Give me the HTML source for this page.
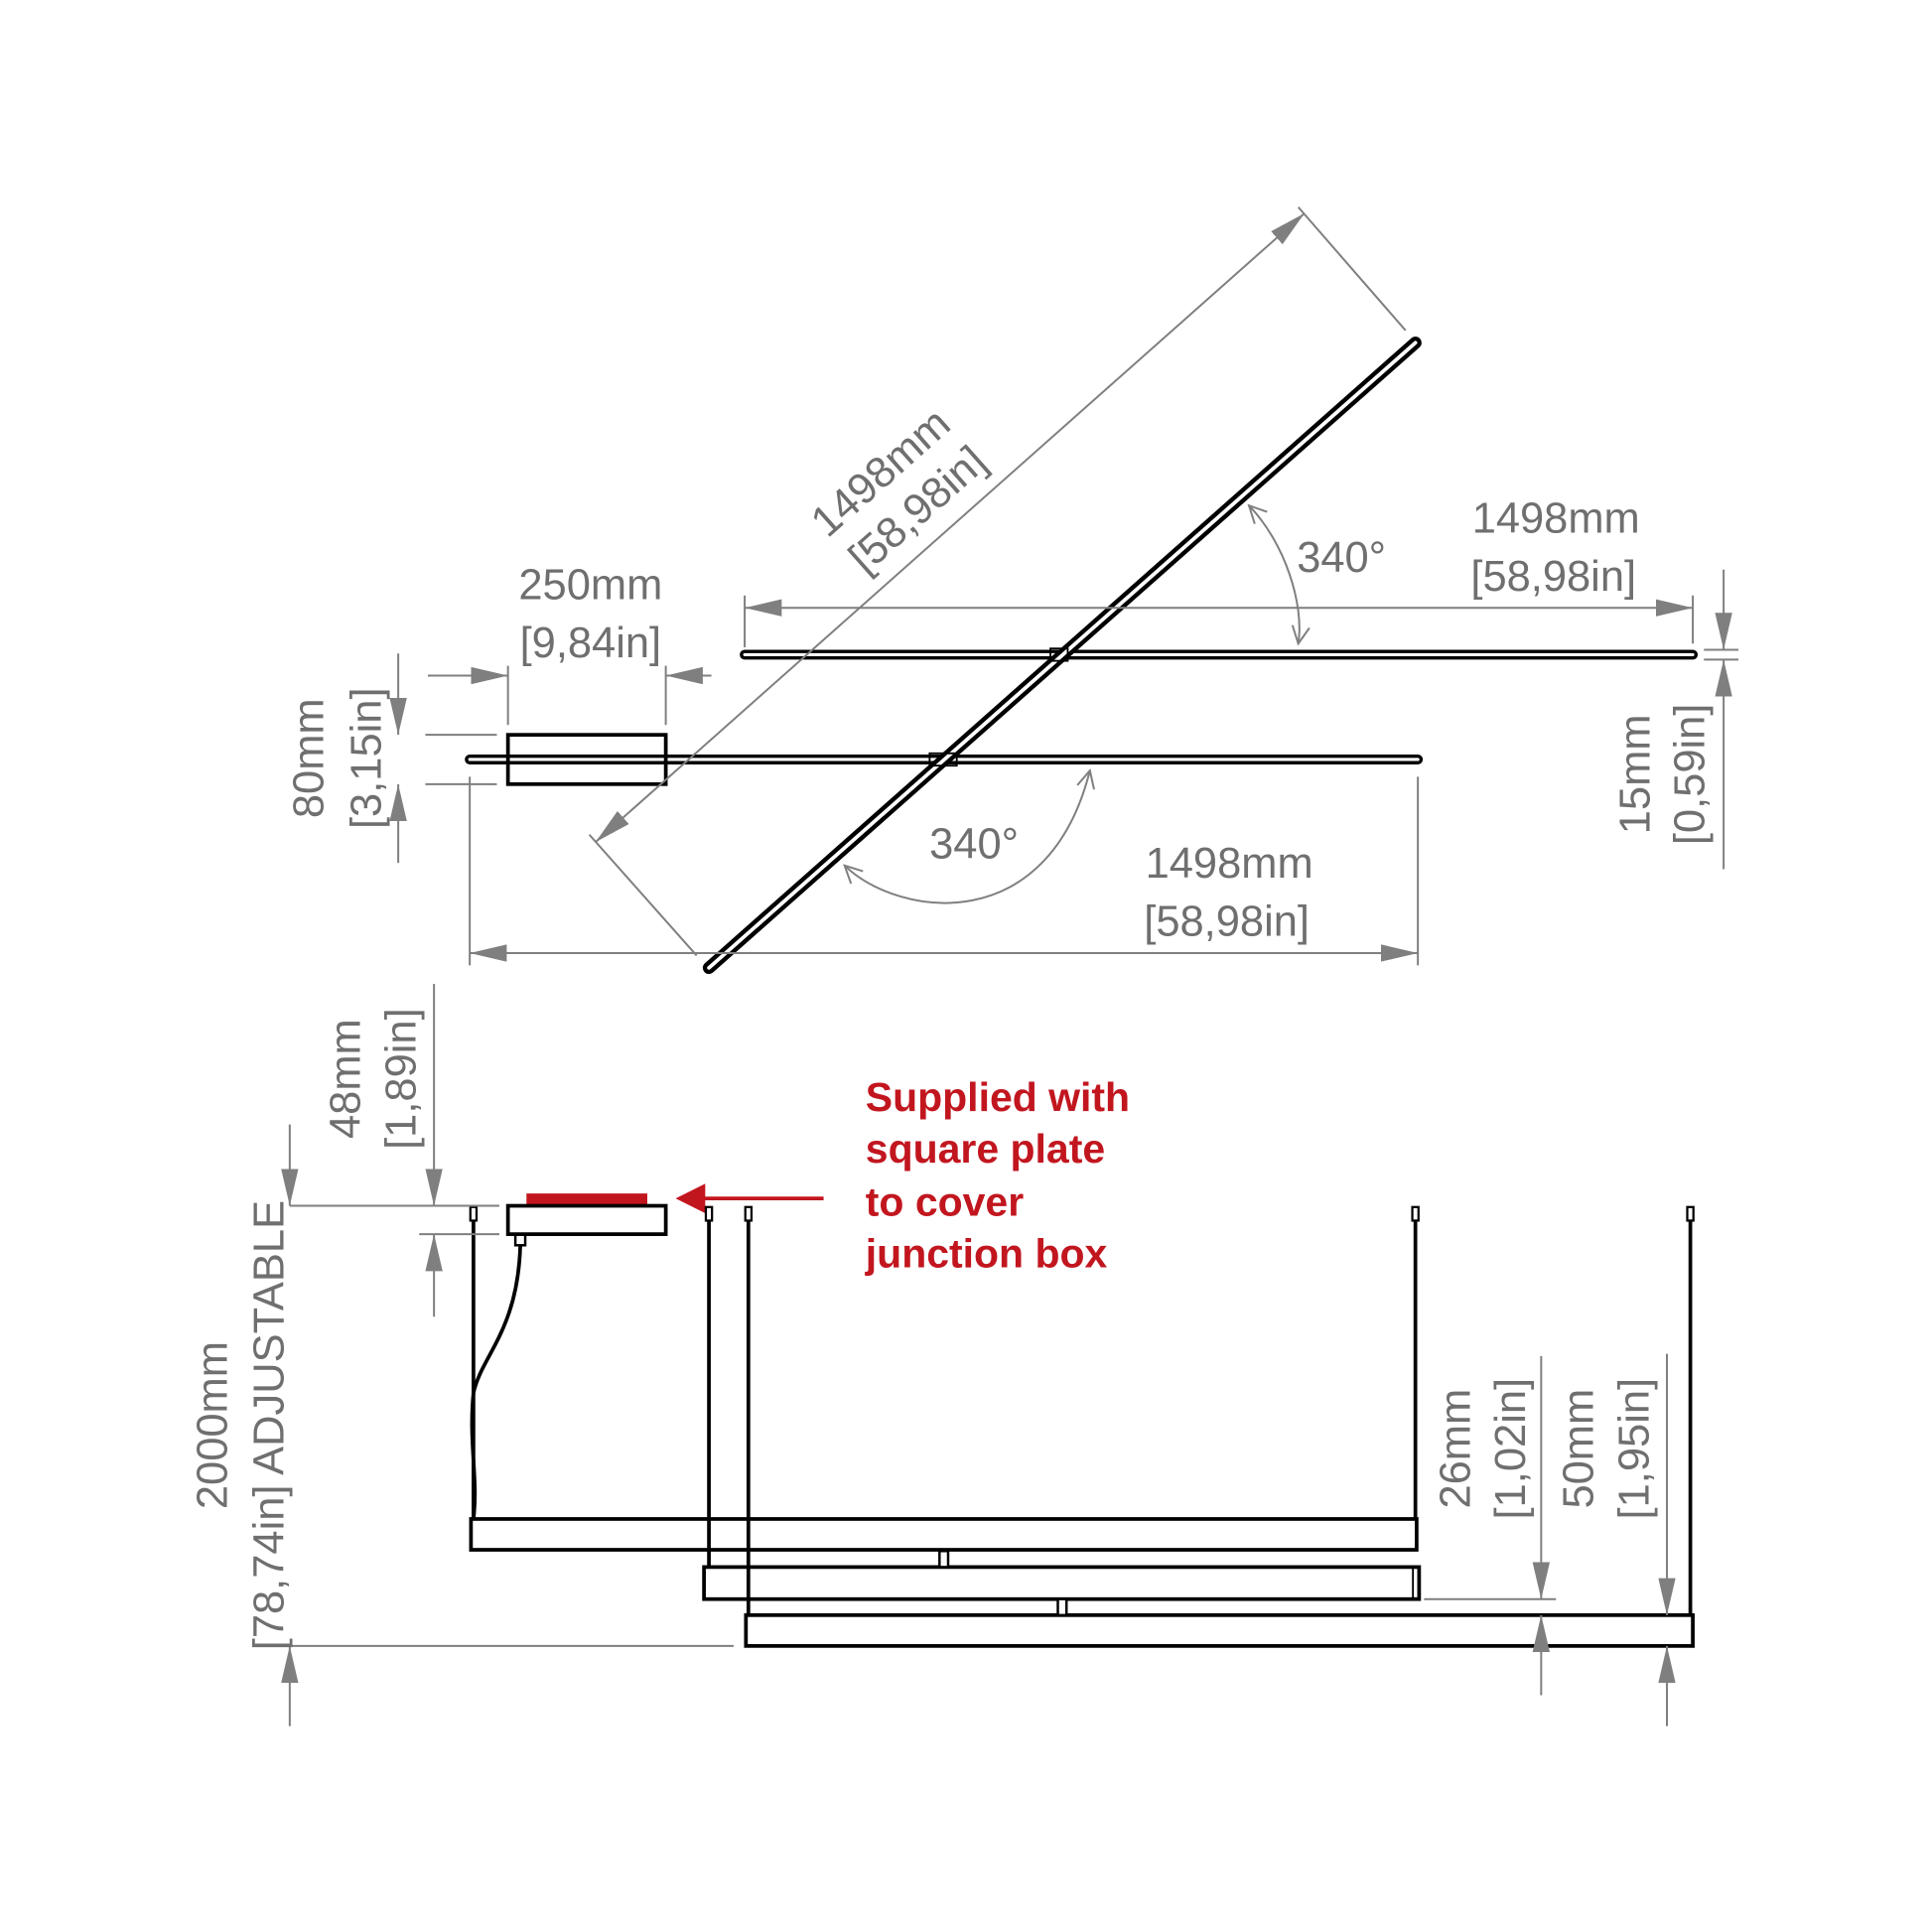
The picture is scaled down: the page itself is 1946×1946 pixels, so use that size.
<!DOCTYPE html>
<html><head><meta charset="utf-8"><style>
html,body{margin:0;padding:0;background:#fff}
svg{display:block}
.d{stroke:#7f7f7f;stroke-width:1.6;fill:none}
.t{font-family:"Liberation Sans",sans-serif;font-size:35px;fill:#6f6f6f;text-anchor:middle}
.k{stroke:#000;fill:none;stroke-width:3}
.r{font-family:"Liberation Sans",sans-serif;font-size:33px;font-weight:bold;fill:#c2161f}
</style></head><body>
<svg width="1946" height="1946" viewBox="0 0 1567 1567" xmlns="http://www.w3.org/2000/svg">
<defs>
<marker id="a" markerUnits="userSpaceOnUse" markerWidth="32" markerHeight="14" refX="30" refY="7" orient="auto-start-reverse">
<path d="M0,0 L30,7 L0,14 z" fill="#7f7f7f"/></marker>
<marker id="c" markerUnits="userSpaceOnUse" markerWidth="20" markerHeight="20" refX="16" refY="10" orient="auto-start-reverse">
<path d="M2,3 L16,10 L2,17" fill="none" stroke="#7f7f7f" stroke-width="1.6"/></marker>
</defs>

<g stroke-linecap="round">
<line x1="604" y1="531" x2="1373" y2="531" stroke="#000" stroke-width="8"/>
<line x1="604" y1="531" x2="1373" y2="531" stroke="#fff" stroke-width="2.5"/>
<line x1="381" y1="616" x2="1150" y2="616" stroke="#000" stroke-width="8"/>
<line x1="381" y1="616" x2="1150" y2="616" stroke="#fff" stroke-width="2.5"/>
<line x1="575" y1="785" x2="1148" y2="278" stroke="#000" stroke-width="10"/>
<line x1="575" y1="785" x2="1148" y2="278" stroke="#fff" stroke-width="3"/>
</g>
<rect x="412" y="596" width="128" height="40" class="k" fill="none"/>
<rect x="754" y="611" width="22" height="10" stroke="#000" stroke-width="1.5" fill="none"/>
<rect x="852" y="526" width="14" height="10" stroke="#000" stroke-width="1.5" fill="none"/>

<line class="d" x1="604" y1="493" x2="1373" y2="493" marker-start="url(#a)" marker-end="url(#a)"/>
<line class="d" x1="604" y1="483" x2="604" y2="525"/>
<line class="d" x1="1373" y1="483" x2="1373" y2="522"/>
<text class="t" x="1262" y="432">1498mm</text>
<text class="t" x="1260" y="479">[58,98in]</text>

<line class="d" x1="347" y1="548" x2="412" y2="548" marker-end="url(#a)"/>
<line class="d" x1="577" y1="548" x2="540" y2="548" marker-end="url(#a)"/>
<line class="d" x1="412" y1="540" x2="412" y2="588"/>
<line class="d" x1="540" y1="540" x2="540" y2="588"/>
<text class="t" x="479" y="486">250mm</text>
<text class="t" x="479" y="533">[9,84in]</text>

<line class="d" x1="323" y1="530" x2="323" y2="596" marker-end="url(#a)"/>
<line class="d" x1="323" y1="700" x2="323" y2="636" marker-end="url(#a)"/>
<line class="d" x1="345" y1="596" x2="403" y2="596"/>
<line class="d" x1="345" y1="636" x2="403" y2="636"/>
<text class="t" transform="translate(262,615) rotate(-90)">80mm</text>
<text class="t" transform="translate(309,615) rotate(-90)">[3,15in]</text>

<line class="d" x1="1398" y1="462" x2="1398" y2="527" marker-end="url(#a)"/>
<line class="d" x1="1398" y1="705" x2="1398" y2="535" marker-end="url(#a)"/>
<line class="d" x1="1382" y1="527" x2="1410" y2="527"/>
<line class="d" x1="1382" y1="535" x2="1410" y2="535"/>
<text class="t" transform="translate(1338,628) rotate(-90)">15mm</text>
<text class="t" transform="translate(1382,628) rotate(-90)">[0,59in]</text>

<line class="d" x1="381" y1="773" x2="1150" y2="773" marker-start="url(#a)" marker-end="url(#a)"/>
<line class="d" x1="381" y1="630" x2="381" y2="783"/>
<line class="d" x1="1150" y1="630" x2="1150" y2="783"/>
<text class="t" x="997" y="712">1498mm</text>
<text class="t" x="995" y="759">[58,98in]</text>

<line class="d" x1="483" y1="683" x2="1058" y2="173" marker-start="url(#a)" marker-end="url(#a)"/>
<line class="d" x1="478" y1="677" x2="565" y2="775"/>
<line class="d" x1="1053" y1="168" x2="1140" y2="268"/>
<text class="t" transform="translate(722,392) rotate(-41.6)">1498mm</text>
<text class="t" transform="translate(752,422) rotate(-41.6)">[58,98in]</text>

<path class="d" d="M1013,410 C1042,440 1058,490 1053,522" marker-start="url(#c)" marker-end="url(#c)"/>
<text class="t" x="1088" y="464">340°</text>
<path class="d" d="M685,702 C730,745 850,760 884,625" marker-start="url(#c)" marker-end="url(#c)"/>
<text class="t" x="790" y="696">340°</text>

<rect x="427" y="968" width="98" height="9" fill="#c2161f"/>
<rect x="412" y="978" width="128" height="23" class="k" fill="#fff"/>
<rect x="418" y="1001" width="8" height="9" stroke="#000" stroke-width="2" fill="none"/>
<path d="M422,1010 C420,1080 390,1100 384,1130 C380,1170 388,1200 384,1232" stroke="#000" stroke-width="3" fill="none"/>
<line x1="560" y1="972" x2="668" y2="972" stroke="#c2161f" stroke-width="3"/>
<path d="M548,972 L572,960 L572,984 z" fill="#c2161f"/>
<text class="r" x="702" y="901">Supplied with</text>
<text class="r" x="702" y="943">square plate</text>
<text class="r" x="702" y="986">to cover</text>
<text class="r" x="702" y="1028">junction box</text>

<g stroke="#000" stroke-width="3">
<line x1="384" y1="988" x2="384" y2="1232"/>
<line x1="575" y1="988" x2="575" y2="1271"/>
<line x1="607" y1="988" x2="607" y2="1310"/>
<line x1="1148" y1="988" x2="1148" y2="1232"/>
<line x1="1371" y1="988" x2="1371" y2="1310"/>
</g>
<g stroke="#000" stroke-width="1.8" fill="#fff">
<rect x="381.5" y="979" width="5" height="11"/>
<rect x="572.5" y="979" width="5" height="11"/>
<rect x="604.5" y="979" width="5" height="11"/>
<rect x="1145.5" y="979" width="5" height="11"/>
<rect x="1368.5" y="979" width="5" height="11"/>
</g>
<rect x="382" y="1232" width="767" height="25" class="k" fill="none"/>
<rect x="571" y="1271" width="580" height="26" class="k" fill="none"/>
<rect x="605" y="1310" width="768" height="25" class="k" fill="none"/>
<line x1="1146" y1="1271" x2="1146" y2="1297" stroke="#000" stroke-width="1.5"/>
<rect x="762" y="1258" width="7" height="13" stroke="#000" stroke-width="2" fill="#fff"/>
<rect x="858" y="1297" width="7" height="13" stroke="#000" stroke-width="2" fill="#fff"/>

<line class="d" x1="352" y1="798" x2="352" y2="978" marker-end="url(#a)"/>
<line class="d" x1="352" y1="1068" x2="352" y2="1001" marker-end="url(#a)"/>
<line class="d" x1="235" y1="978" x2="405" y2="978"/>
<line class="d" x1="340" y1="1001" x2="405" y2="1001"/>
<text class="t" transform="translate(292,875) rotate(-90)">48mm</text>
<text class="t" transform="translate(337,875) rotate(-90)">[1,89in]</text>

<line class="d" x1="235" y1="912" x2="235" y2="978" marker-end="url(#a)"/>
<line class="d" x1="235" y1="1400" x2="235" y2="1335" marker-end="url(#a)"/>
<line class="d" x1="235" y1="1335" x2="595" y2="1335"/>
<text class="t" transform="translate(184,1156) rotate(-90)">2000mm</text>
<text class="t" transform="translate(230,1156) rotate(-90)">[78,74in] ADJUSTABLE</text>

<line class="d" x1="1250" y1="1100" x2="1250" y2="1297" marker-end="url(#a)"/>
<line class="d" x1="1250" y1="1375" x2="1250" y2="1310" marker-end="url(#a)"/>
<line class="d" x1="1155" y1="1297" x2="1262" y2="1297"/>
<text class="t" transform="translate(1192,1175) rotate(-90)">26mm</text>
<text class="t" transform="translate(1237,1175) rotate(-90)">[1,02in]</text>

<line class="d" x1="1352" y1="1098" x2="1352" y2="1310" marker-end="url(#a)"/>
<line class="d" x1="1352" y1="1400" x2="1352" y2="1335" marker-end="url(#a)"/>
<text class="t" transform="translate(1292,1175) rotate(-90)">50mm</text>
<text class="t" transform="translate(1337,1175) rotate(-90)">[1,95in]</text>
</svg>
</body></html>
